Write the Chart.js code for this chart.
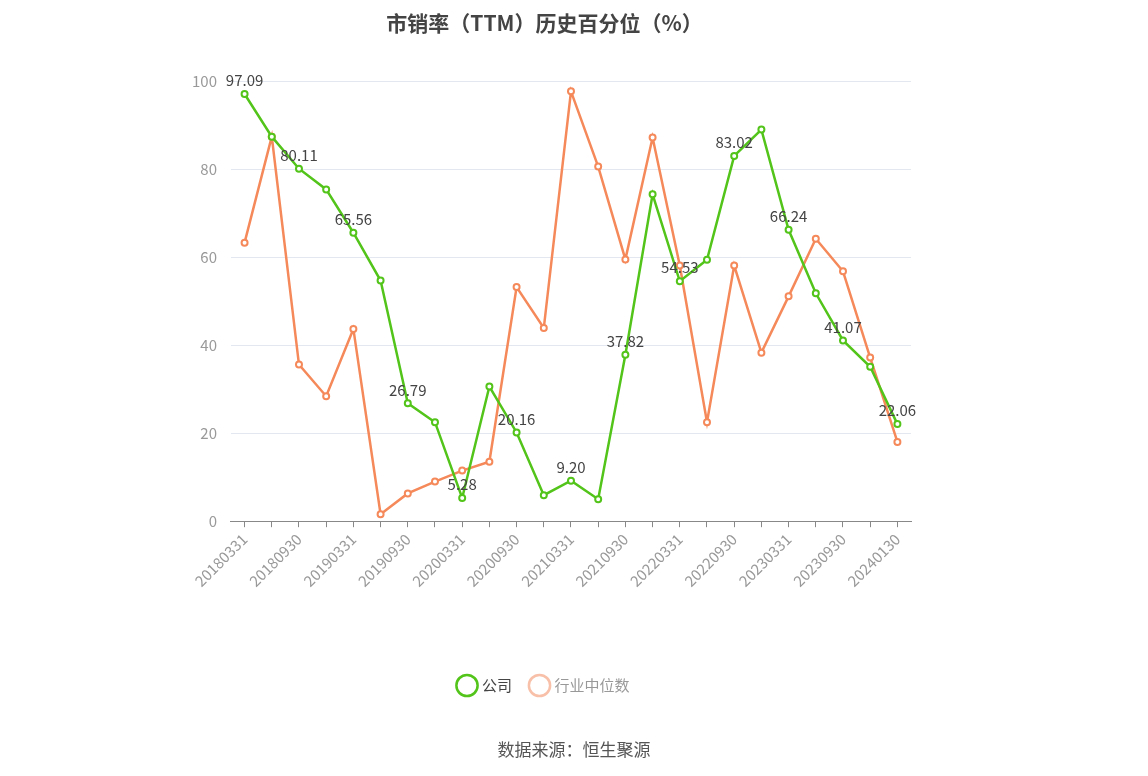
<!DOCTYPE html>
<html>
<head>
<meta charset="utf-8">
<script src="https://cdn.jsdelivr.net/npm/chart.js@4"></script>
<style>
  body { margin: 0; background: #fff; }
  #wrap { width: 1148px; height: 776px; position: relative; }
  #src { position: absolute; left: 0; width: 1148px; top: 736px; text-align: center;
         font: 17px "Noto Sans CJK SC", sans-serif; color: #555; }
</style>
</head>
<body>
<div id="wrap">
  <canvas id="chart" width="1148" height="776"></canvas>
  <div id="src">数据来源：恒生聚源</div>
</div>
<script>
const dates = ['20180331','20180630','20180930','20181231','20190331','20190630','20190930','20191231',
  '20200331','20200630','20200930','20201231','20210331','20210630','20210930','20211231',
  '20220331','20220630','20220930','20221231','20230331','20230630','20230930','20231231','20240130'];
const companyVals = [97.09, 87.4, 80.11, 75.4, 65.56, 54.7, 26.79, 22.5, 5.28, 30.6, 20.16, 5.9, 9.20,
  5.0, 37.82, 74.3, 54.53, 59.4, 83.02, 89.0, 66.24, 51.8, 41.07, 35.1, 22.06];
const industryVals = [63.3, 87.4, 35.6, 28.4, 43.7, 1.6, 6.3, 9.0, 11.5, 13.5, 53.2, 43.9, 97.7,
  80.6, 59.5, 87.2, 58.1, 22.5, 58.1, 38.3, 51.1, 64.2, 56.8, 37.2, 18.0];
const yTicks = [0, 20, 40, 60, 80, 100];

const FONT = '"Noto Sans CJK SC", "Noto Sans", sans-serif';

// value labels on every other company point
const pointLabels = {
  id: 'pointLabels',
  afterDatasetsDraw(chart) {
    const ctx = chart.ctx;
    const meta = chart.getDatasetMeta(0);
    ctx.save();
    ctx.font = '15px ' + FONT;
    ctx.fillStyle = '#444';
    ctx.textAlign = 'center';
    ctx.textBaseline = 'bottom';
    meta.data.forEach((pt, i) => {
      if (i % 2 === 0) ctx.fillText(companyVals[i].toFixed(2), pt.x, pt.y - 6);
    });
    ctx.restore();
  }
};

new Chart(document.getElementById('chart'), {
  type: 'line',
  data: {
    labels: dates,
    datasets: [{
      label: '公司',
      data: companyVals,
      borderColor: '#52c41a',
      backgroundColor: '#fff',
      borderWidth: 2.5,
      pointRadius: 3,
      pointBorderWidth: 2,
      tension: 0
    }, {
      label: '行业中位数',
      data: industryVals,
      borderColor: '#f5895a',
      backgroundColor: '#fff',
      borderWidth: 2.5,
      pointRadius: 3,
      pointBorderWidth: 2,
      tension: 0
    }]
  },
  options: {
    responsive: false,
    animation: false,
    layout: { padding: { left: 178, right: 237, top: 10, bottom: 73 } },
    plugins: {
      title: {
        display: true,
        text: '市销率（TTM）历史百分位（%）',
        font: { family: FONT, size: 21, weight: 'bold' },
        color: '#444',
        padding: { top: 0, bottom: 46 }
      },
      legend: {
        position: 'bottom',
        labels: {
          font: { family: FONT, size: 15 },
          color: '#555',
          usePointStyle: true,
          pointStyle: 'circle',
          boxWidth: 30,
          padding: 20,
          generateLabels(chart) {
            return chart.data.datasets.map((ds, i) => ({
              text: ds.label,
              fillStyle: '#fff',
              strokeStyle: i === 0 ? '#52c41a' : '#f8c0a8',
              fontColor: i === 0 ? '#444' : '#999',
              lineWidth: 2.5,
              pointStyle: 'circle',
              datasetIndex: i
            }));
          }
        }
      },
      tooltip: { enabled: false }
    },
    scales: {
      x: {
        offset: true,
        afterFit(axis) { axis.height += 65; },
        grid: { drawOnChartArea: false, color: '#888', tickLength: 6 },
        border: { color: '#888' },
        ticks: {
          autoSkip: false,
          maxRotation: 45,
          minRotation: 45,
          color: '#999',
          font: { family: FONT, size: 15 },
          callback(v, i) { return i % 2 === 0 ? dates[i] : ''; }
        }
      },
      y: {
        min: 0,
        max: 100,
        afterBuildTicks(axis) { axis.ticks = yTicks.map(v => ({ value: v })); },
        grid: { color: '#e3e7ef', drawTicks: false },
        border: { display: false },
        ticks: { color: '#999', padding: 14, font: { family: FONT, size: 15 } }
      }
    }
  },
  plugins: [pointLabels]
});
</script>
</body>
</html>
